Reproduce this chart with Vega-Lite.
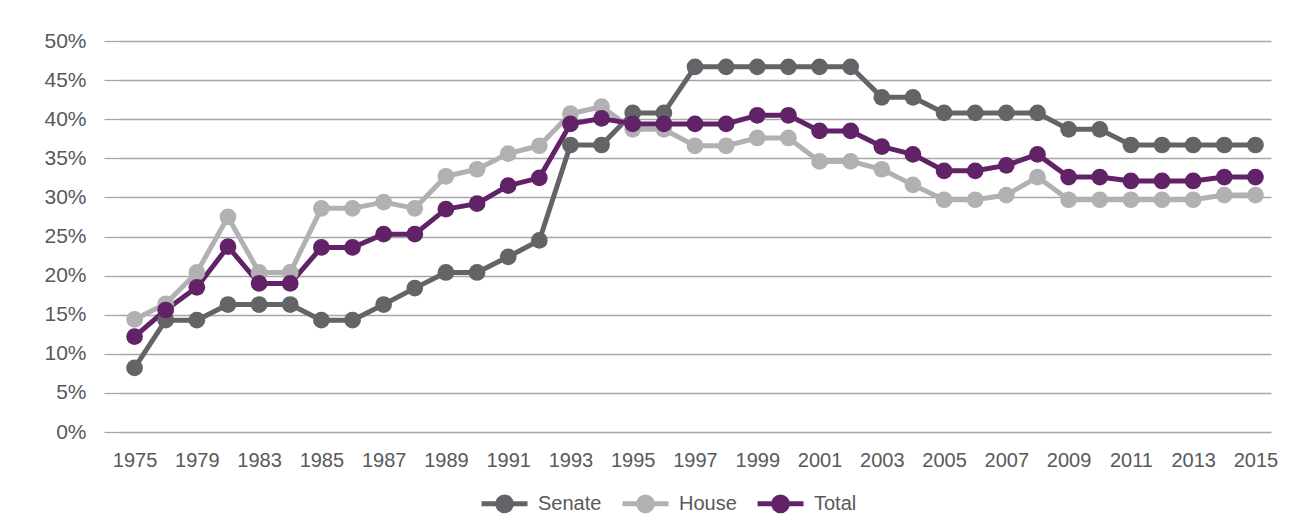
{
  "$schema": "https://vega.github.io/schema/vega-lite/v6.json",
  "width": 1152,
  "height": 391,
  "autosize": {"type": "none"},
  "padding": {"left": 119, "top": 41, "right": 22, "bottom": 99},
  "background": "white",
  "config": {
    "view": {"stroke": null},
    "font": "Liberation Sans, Arial, sans-serif"
  },
  "data": {
    "values": [
      {"year": "1975", "chamber": "Senate", "pct": 0.082},
      {"year": "1977", "chamber": "Senate", "pct": 0.143},
      {"year": "1979", "chamber": "Senate", "pct": 0.143},
      {"year": "1981", "chamber": "Senate", "pct": 0.163},
      {"year": "1983", "chamber": "Senate", "pct": 0.163},
      {"year": "1984", "chamber": "Senate", "pct": 0.163},
      {"year": "1985", "chamber": "Senate", "pct": 0.143},
      {"year": "1986", "chamber": "Senate", "pct": 0.143},
      {"year": "1987", "chamber": "Senate", "pct": 0.163},
      {"year": "1988", "chamber": "Senate", "pct": 0.184},
      {"year": "1989", "chamber": "Senate", "pct": 0.204},
      {"year": "1990", "chamber": "Senate", "pct": 0.204},
      {"year": "1991", "chamber": "Senate", "pct": 0.224},
      {"year": "1992", "chamber": "Senate", "pct": 0.245},
      {"year": "1993", "chamber": "Senate", "pct": 0.367},
      {"year": "1994", "chamber": "Senate", "pct": 0.367},
      {"year": "1995", "chamber": "Senate", "pct": 0.408},
      {"year": "1996", "chamber": "Senate", "pct": 0.408},
      {"year": "1997", "chamber": "Senate", "pct": 0.467},
      {"year": "1998", "chamber": "Senate", "pct": 0.467},
      {"year": "1999", "chamber": "Senate", "pct": 0.467},
      {"year": "2000", "chamber": "Senate", "pct": 0.467},
      {"year": "2001", "chamber": "Senate", "pct": 0.467},
      {"year": "2002", "chamber": "Senate", "pct": 0.467},
      {"year": "2003", "chamber": "Senate", "pct": 0.428},
      {"year": "2004", "chamber": "Senate", "pct": 0.428},
      {"year": "2005", "chamber": "Senate", "pct": 0.408},
      {"year": "2006", "chamber": "Senate", "pct": 0.408},
      {"year": "2007", "chamber": "Senate", "pct": 0.408},
      {"year": "2008", "chamber": "Senate", "pct": 0.408},
      {"year": "2009", "chamber": "Senate", "pct": 0.387},
      {"year": "2010", "chamber": "Senate", "pct": 0.387},
      {"year": "2011", "chamber": "Senate", "pct": 0.367},
      {"year": "2012", "chamber": "Senate", "pct": 0.367},
      {"year": "2013", "chamber": "Senate", "pct": 0.367},
      {"year": "2014", "chamber": "Senate", "pct": 0.367},
      {"year": "2015", "chamber": "Senate", "pct": 0.367},
      {"year": "1975", "chamber": "House", "pct": 0.144},
      {"year": "1977", "chamber": "House", "pct": 0.164},
      {"year": "1979", "chamber": "House", "pct": 0.204},
      {"year": "1981", "chamber": "House", "pct": 0.275},
      {"year": "1983", "chamber": "House", "pct": 0.204},
      {"year": "1984", "chamber": "House", "pct": 0.204},
      {"year": "1985", "chamber": "House", "pct": 0.286},
      {"year": "1986", "chamber": "House", "pct": 0.286},
      {"year": "1987", "chamber": "House", "pct": 0.294},
      {"year": "1988", "chamber": "House", "pct": 0.286},
      {"year": "1989", "chamber": "House", "pct": 0.327},
      {"year": "1990", "chamber": "House", "pct": 0.336},
      {"year": "1991", "chamber": "House", "pct": 0.356},
      {"year": "1992", "chamber": "House", "pct": 0.366},
      {"year": "1993", "chamber": "House", "pct": 0.407},
      {"year": "1994", "chamber": "House", "pct": 0.416},
      {"year": "1995", "chamber": "House", "pct": 0.387},
      {"year": "1996", "chamber": "House", "pct": 0.387},
      {"year": "1997", "chamber": "House", "pct": 0.366},
      {"year": "1998", "chamber": "House", "pct": 0.366},
      {"year": "1999", "chamber": "House", "pct": 0.376},
      {"year": "2000", "chamber": "House", "pct": 0.376},
      {"year": "2001", "chamber": "House", "pct": 0.346},
      {"year": "2002", "chamber": "House", "pct": 0.346},
      {"year": "2003", "chamber": "House", "pct": 0.336},
      {"year": "2004", "chamber": "House", "pct": 0.316},
      {"year": "2005", "chamber": "House", "pct": 0.297},
      {"year": "2006", "chamber": "House", "pct": 0.297},
      {"year": "2007", "chamber": "House", "pct": 0.303},
      {"year": "2008", "chamber": "House", "pct": 0.326},
      {"year": "2009", "chamber": "House", "pct": 0.297},
      {"year": "2010", "chamber": "House", "pct": 0.297},
      {"year": "2011", "chamber": "House", "pct": 0.297},
      {"year": "2012", "chamber": "House", "pct": 0.297},
      {"year": "2013", "chamber": "House", "pct": 0.297},
      {"year": "2014", "chamber": "House", "pct": 0.303},
      {"year": "2015", "chamber": "House", "pct": 0.303},
      {"year": "1975", "chamber": "Total", "pct": 0.122},
      {"year": "1977", "chamber": "Total", "pct": 0.156},
      {"year": "1979", "chamber": "Total", "pct": 0.185},
      {"year": "1981", "chamber": "Total", "pct": 0.237},
      {"year": "1983", "chamber": "Total", "pct": 0.19},
      {"year": "1984", "chamber": "Total", "pct": 0.19},
      {"year": "1985", "chamber": "Total", "pct": 0.236},
      {"year": "1986", "chamber": "Total", "pct": 0.236},
      {"year": "1987", "chamber": "Total", "pct": 0.253},
      {"year": "1988", "chamber": "Total", "pct": 0.253},
      {"year": "1989", "chamber": "Total", "pct": 0.285},
      {"year": "1990", "chamber": "Total", "pct": 0.292},
      {"year": "1991", "chamber": "Total", "pct": 0.315},
      {"year": "1992", "chamber": "Total", "pct": 0.325},
      {"year": "1993", "chamber": "Total", "pct": 0.394},
      {"year": "1994", "chamber": "Total", "pct": 0.401},
      {"year": "1995", "chamber": "Total", "pct": 0.394},
      {"year": "1996", "chamber": "Total", "pct": 0.394},
      {"year": "1997", "chamber": "Total", "pct": 0.394},
      {"year": "1998", "chamber": "Total", "pct": 0.394},
      {"year": "1999", "chamber": "Total", "pct": 0.405},
      {"year": "2000", "chamber": "Total", "pct": 0.405},
      {"year": "2001", "chamber": "Total", "pct": 0.385},
      {"year": "2002", "chamber": "Total", "pct": 0.385},
      {"year": "2003", "chamber": "Total", "pct": 0.365},
      {"year": "2004", "chamber": "Total", "pct": 0.355},
      {"year": "2005", "chamber": "Total", "pct": 0.334},
      {"year": "2006", "chamber": "Total", "pct": 0.334},
      {"year": "2007", "chamber": "Total", "pct": 0.341},
      {"year": "2008", "chamber": "Total", "pct": 0.355},
      {"year": "2009", "chamber": "Total", "pct": 0.326},
      {"year": "2010", "chamber": "Total", "pct": 0.326},
      {"year": "2011", "chamber": "Total", "pct": 0.321},
      {"year": "2012", "chamber": "Total", "pct": 0.321},
      {"year": "2013", "chamber": "Total", "pct": 0.321},
      {"year": "2014", "chamber": "Total", "pct": 0.326},
      {"year": "2015", "chamber": "Total", "pct": 0.326}
    ]
  },
  "encoding": {
    "x": {
      "field": "year",
      "type": "ordinal",
      "scale": {"type": "point", "padding": 0.5},
      "axis": {
        "values": ["1975", "1979", "1983", "1985", "1987", "1989", "1991", "1993", "1995", "1997", "1999", "2001", "2003", "2005", "2007", "2009", "2011", "2013", "2015"],
        "labelAngle": 0,
        "ticks": false,
        "domain": false,
        "grid": false,
        "labelFontSize": 20,
        "labelColor": "#58595b",
        "labelPadding": 18,
        "title": null
      }
    },
    "y": {
      "field": "pct",
      "type": "quantitative",
      "scale": {"domain": [0, 0.5], "nice": false},
      "axis": {
        "values": [0, 0.05, 0.1, 0.15, 0.2, 0.25, 0.3, 0.35, 0.4, 0.45, 0.5],
        "format": ".0%",
        "domain": false,
        "tickSize": 15,
        "tickColor": "#a6a6a6",
        "tickWidth": 1.3,
        "gridColor": "#a6a6a6",
        "gridWidth": 1.3,
        "labelFontSize": 21,
        "labelColor": "#58595b",
        "labelPadding": 18,
        "title": null
      }
    },
    "color": {
      "field": "chamber",
      "type": "nominal",
      "scale": {"domain": ["Senate", "House", "Total"], "range": ["#636468", "#b1b1b4", "#612267"]},
      "legend": {
        "orient": "none",
        "legendX": 360,
        "legendY": 437,
        "direction": "horizontal",
        "title": null,
        "symbolType": "M -1 0 L 1 0 M 0.3 0 A 0.3 0.3 0 1 1 -0.3 0 A 0.3 0.3 0 1 1 0.3 0 Z",
        "symbolSize": 2116,
        "symbolStrokeWidth": 5,
        "labelFontSize": 20,
        "labelColor": "#58595b",
        "labelOffset": 8,
        "columnPadding": 10,
        "encode": {
          "symbols": {
            "update": {
              "fill": {"scale": "color", "field": "value"},
              "stroke": {"scale": "color", "field": "value"},
              "strokeWidth": {"value": 5},
              "opacity": {"value": 1}
            }
          }
        }
      }
    }
  },
  "layer": [
    {"mark": {"type": "line", "strokeWidth": 5, "strokeJoin": "round"}},
    {"mark": {"type": "circle", "size": 280, "opacity": 1}}
  ]
}
